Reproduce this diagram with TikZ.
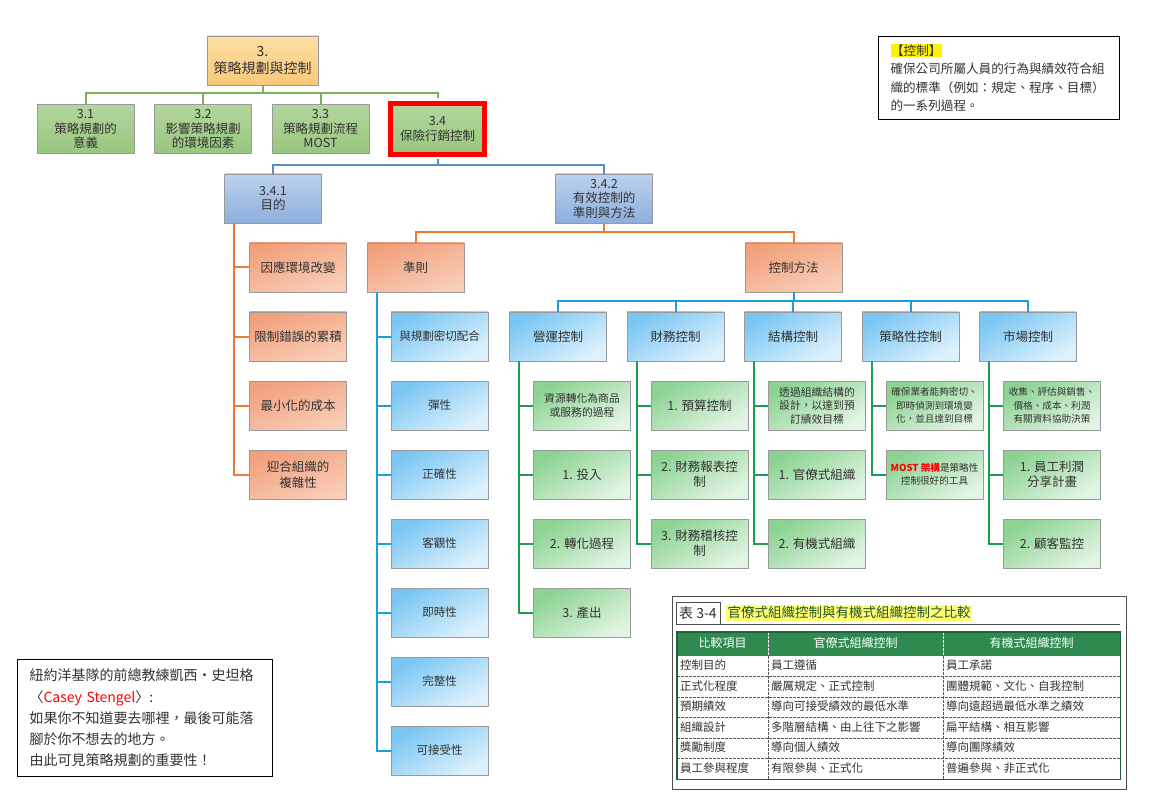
\documentclass[tikz,border=0pt]{standalone}
\usepackage{fontspec}
\setmainfont{Noto Sans CJK TC}
\usetikzlibrary{matrix,positioning}
\setlength{\fboxsep}{0.6pt}
\newcommand{\gfontL}{\fontsize{12.5}{15}\selectfont}
\newcommand{\gfontM}{\fontsize{10.8}{13.5}\selectfont}
\newcommand{\gfontS}{\fontsize{9.6}{13.5}\selectfont}
\definecolor{lnGreen}{HTML}{79B259}
\definecolor{lnBlue}{HTML}{5B8BC8}
\definecolor{lnOrange}{HTML}{EE7B35}
\definecolor{lnCyan}{HTML}{1E9FDC}
\definecolor{lnDkGreen}{HTML}{1E9D52}
\definecolor{cardGray}{HTML}{9A9A9A}
\definecolor{txtGray}{HTML}{333333}
\definecolor{topA}{HTML}{FDDFA2}
\definecolor{topB}{HTML}{F8C87A}
\definecolor{lvA}{HTML}{B3D69E}
\definecolor{lvB}{HTML}{98C67E}
\definecolor{blA}{HTML}{BCD2EE}
\definecolor{blB}{HTML}{8DAEDC}
\definecolor{orA}{HTML}{F1A07C}
\definecolor{orB}{HTML}{F9CDB7}
\definecolor{cyA}{HTML}{7AC6F3}
\definecolor{cyB}{HTML}{DDF1FD}
\definecolor{grA}{HTML}{8CD392}
\definecolor{grB}{HTML}{E2F4E3}
\definecolor{hdrGreen}{HTML}{2F8A4F}
\definecolor{hlYellow}{HTML}{FFFF70}
\definecolor{ttlGreen}{HTML}{24502F}

\begin{document}
\begin{tikzpicture}[x=1pt,y=-1pt,
    card/.style={draw=cardGray,line width=0.8pt,minimum width=97pt,minimum height=49pt,
      align=center,inner sep=1pt,text=txtGray},
    topcard/.style={card,top color=topA,bottom color=topB,minimum width=111pt,
      font=\fontsize{14}{17}\selectfont},
    lvcard/.style={card,top color=lvA,bottom color=lvB,font=\fontsize{12.5}{14.5}\selectfont},
    blcard/.style={card,top color=blA,bottom color=blB,font=\fontsize{12.5}{14.5}\selectfont},
    orcard/.style={card,top color=orA,bottom color=orB,shading angle=20,
      font=\fontsize{12.5}{16}\selectfont},
    cycard/.style={card,top color=cyA,bottom color=cyB,shading angle=30,
      font=\fontsize{11.5}{14}\selectfont},
    grcard/.style={card,top color=grA,bottom color=grB,shading angle=30},
    link/.style={line width=2pt},
    notebox/.style={draw=black,line width=1pt,anchor=north west,align=left,
      inner xsep=12pt,text=txtGray},
    cmat/.style={matrix of nodes,anchor=north west,inner sep=0pt,column sep=0pt,row sep=0pt,
      nodes={minimum height=20.5pt,inner xsep=3pt,inner ysep=0pt,text height=9pt,
        text depth=2.5pt,align=left,font=\fontsize{11.5}{13}\selectfont,text=txtGray},
      column 1/.style={nodes={text width=85pt}},
      column 2/.style={nodes={text width=169pt}},
      column 3/.style={nodes={text width=171pt}},
      row 1/.style={nodes={fill=hdrGreen,text=white,align=center,minimum height=24pt,
        font=\fontsize{12}{13}\selectfont}}},
    tdash/.style={gray!70!black,line width=0.5pt,dash pattern=on 2.5pt off 1.5pt}]
 \useasboundingbox[fill=white] (0,0) rectangle (1151,794);

 % top of the tree
 \node[topcard] (S3) at (262.5,60.5) {3.\\策略規劃與控制};
 \foreach \t [count=\i] in {{3.1\\策略規劃的\\意義},{3.2\\影響策略規劃\\的環境因素},{3.3\\策略規劃流程\\MOST}}
  \node[lvcard] (S3\i) at ({85.5+117.5*(\i-1)},129) {\t};
 \node[lvcard,draw=red,line width=5pt,minimum width=94pt,minimum height=51pt] (S34)
  at (437.5,129) {3.4\\保險行銷控制};
 \foreach \n in {S31,S32,S33} \draw[link,lnGreen] (S3.south) -- ++(0,8) -| (\n.north);
 \draw[link,lnGreen] (S3.south) -- ++(0,8) -| ([yshift=2.5pt]S34.north);

 \node[blcard] (P341) at (273,198.5) {3.4.1\\目的};
 \node[blcard] (P342) at (604,198.5) {3.4.2\\有效控制的\\準則與方法};
 \foreach \n in {P341,P342} \draw[link,lnBlue] ([yshift=-2.5pt]S34.south) -- ++(0,6) -| (\n.north);

 % 3.4.1
 \foreach \t [count=\i] in {因應環境改變,限制錯誤的累積,最小化的成本,{迎合組織的\\複雜性}}
  \node[orcard] (A\i) at (298,{267.5+69*(\i-1)}) {\t};
 \foreach \i in {1,...,4} \draw[link,lnOrange] (P341.south west) ++(10,0) |- (A\i.west);

 % 3.4.2
 \node[orcard] (R) at (415.5,267.5) {準則};
 \node[orcard] (M) at (793.5,267.5) {控制方法};
 \foreach \n in {R,M} \draw[link,lnOrange] (P342.south) -- ++(0,9) -| (\n.north);

 \foreach \t [count=\i] in {與規劃密切配合,彈性,正確性,客觀性,即時性,完整性,可接受性}
  \node[cycard] (C\i) at (439.5,{336.5+69*(\i-1)}) {\t};
 \foreach \i in {1,...,7} \draw[link,lnCyan] (R.south west) ++(10,0) |- (C\i.west);

 \foreach \t [count=\i] in {營運控制,財務控制,結構控制,策略性控制,市場控制}
  \node[cycard,font=\fontsize{12.5}{15}\selectfont] (M\i) at ({558+117.5*(\i-1)},336.5) {\t};
 \foreach \i in {1,...,5} \draw[link,lnCyan] (M.south) -- ++(0,9) -| (M\i.north);

 % control methods
 \foreach \t/\f [count=\k] in {{資源轉化為商品\\或服務的過程}/\gfontM,1. 投入/\gfontL,
   2. 轉化過程/\gfontL,3. 產出/\gfontL}
  \node[grcard,font=\f] (M1-\k) at (582,{336.5+69*\k}) {\t};
 \foreach \t/\f [count=\k] in {1. 預算控制/\gfontL,{2. 財務報表控\\制}/\gfontL,{3. 財務稽核控\\制}/\gfontL}
  \node[grcard,font=\f] (M2-\k) at (699.5,{336.5+69*\k}) {\t};
 \foreach \t/\f [count=\k] in {{透過組織結構的\\設計，以達到預\\訂績效目標}/\gfontM,
   1. 官僚式組織/\gfontL,2. 有機式組織/\gfontL}
  \node[grcard,font=\f] (M3-\k) at (817,{336.5+69*\k}) {\t};
 \foreach \t/\f [count=\k] in {{確保業者能夠密切、\\即時偵測到環境變\\化，並且達到目標}/\gfontS,
   {\textcolor{red}{\textbf{MOST 架構}}是策略性\\控制很好的工具}/\gfontS}
  \node[grcard,font=\f] (M4-\k) at (934.5,{336.5+69*\k}) {\t};
 \foreach \t/\f [count=\k] in {{收集、評估與銷售、\\價格、成本、利潤\\有關資料協助決策}/\gfontS,
   {1. 員工利潤\\分享計畫}/\gfontL,2. 顧客監控/\gfontL}
  \node[grcard,font=\f] (M5-\k) at (1052,{336.5+69*\k}) {\t};
 \foreach \c/\n in {1/4,2/3,3/3,4/2,5/3}
  \foreach \k in {1,...,\n} \draw[link,lnDkGreen] (M\c.south west) ++(10,0) |- (M\c-\k.west);

 % notes
 \node[notebox,minimum width=241pt,minimum height=83pt,text width=217pt,
  font=\fontsize{12.6}{18.5}\selectfont] (DEF) at (878,36)
  {\colorbox{yellow}{【控制】}\\確保公司所屬人員的行為與績效符合組\\織的標準（例如：規定、程序、目標）\\的一系列過程。};
 \node[notebox,minimum width=255pt,minimum height=117pt,text width=231pt,
  font=\fontsize{14}{21.3}\selectfont] (QUO) at (17,659)
  {紐約洋基隊的前總教練凱西‧史坦格\\〈\textcolor{red}{Casey Stengel}〉:\\如果你不知道要去哪裡，最後可能落\\腳於你不想去的地方。\\由此可見策略規劃的重要性！};

 % table 3-4
 \draw[gray!60!black,line width=0.8pt] (672,596) rectangle (1126,789);
 \matrix[cmat] (CMP) at (677,632) {
  比較項目 & 官僚式組織控制 & 有機式組織控制 \\
  控制目的 & 員工遵循 & 員工承諾 \\
  正式化程度 & 嚴厲規定、正式控制 & 團體規範、文化、自我控制 \\
  預期績效 & 導向可接受績效的最低水準 & 導向遠超過最低水準之績效 \\
  組織設計 & 多階層結構、由上往下之影響 & 扁平結構、相互影響 \\
  獎勵制度 & 導向個人績效 & 導向團隊績效 \\
  員工參與程度 & 有限參與、正式化 & 普遍參與、非正式化 \\
 };
 \foreach \r in {3,...,7} \draw[tdash] (CMP-\r-1.north west) -- (CMP-\r-3.north east);
 \foreach \c in {2,3} {
  \draw[tdash,white] (CMP-1-\c.north west) -- (CMP-1-\c.south west);
  \draw[tdash] (CMP-2-\c.north west) -- (CMP-7-\c.south west);
 }
 \draw[hdrGreen!70!black,line width=1.2pt] (CMP.north west) rectangle (CMP.south east);
 \node[draw=gray!60!black,fill=white,anchor=south west,minimum height=22pt,inner xsep=3pt,
  font=\fontsize{14}{16}\selectfont,text=txtGray] (TAB) at (676,624) {表 3-4};
 \draw[gray!60!black,line width=0.8pt] (TAB.south east) -- (TAB.south -| CMP.east);
 \node[anchor=west,fill=hlYellow,inner sep=1.5pt,font=\fontsize{13.5}{15}\selectfont,
  text=ttlGreen] (TTL) at ([xshift=6pt]TAB.east) {官僚式組織控制與有機式組織控制之比較};
\end{tikzpicture}
\end{document}
